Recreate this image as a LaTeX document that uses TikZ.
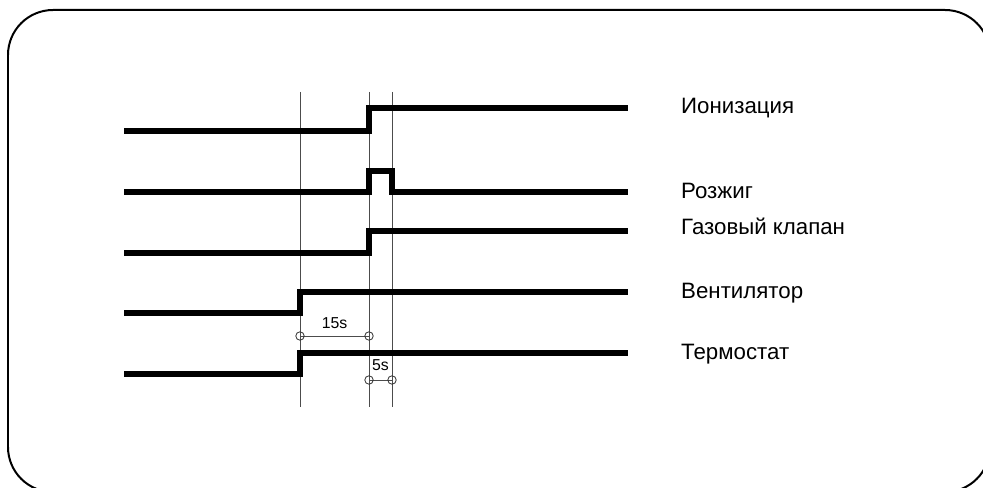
\documentclass[tikz,border=0pt]{standalone}
\usepackage{fontspec}
\setmainfont{Liberation Sans}
\usetikzlibrary{positioning,calc}

\begin{document}
\begin{tikzpicture}[x=0.03cm,y=-0.03cm,
		signal/.style={line width=4.3pt,line join=miter,line cap=butt},
		marker/.style={gray!60!black,line width=0.6pt},
		signame/.style={anchor=base west,inner sep=0pt,font=\fontsize{19}{22}\selectfont},
		dimtext/.style={anchor=base,inner sep=0pt,font=\fontsize{13.5}{16}\selectfont},
		dimring/.style={marker,line width=0.7pt,black!80}]
		\useasboundingbox (0,0) rectangle (983,488);
		\draw[line width=1.7pt,rounded corners=1.35cm] (8,10) rectangle (990,492);
		% time marks
		\coordinate (s) at (124,0);
		\coordinate (a) at (300,0);
		\coordinate (b) at (369,0);
		\coordinate (c) at (392,0);
		\coordinate (e) at (628,0);
		\foreach \t in {a,b,c}
			\draw[marker] ($(\t)+(0,92)$) -- ($(\t)+(0,407)$);
		%
		\draw[signal] ($(s)+(0,131)$) -- ($(b)+(0,131)$) -- ($(b)+(0,108)$) -- ($(e)+(0,108)$);
		\draw[signal] ($(s)+(0,192)$) -- ($(b)+(0,192)$) -- ($(b)+(0,171)$) -- ($(c)+(0,171)$)
			-- ($(c)+(0,192)$) -- ($(e)+(0,192)$);
		\draw[signal] ($(s)+(0,253)$) -- ($(b)+(0,253)$) -- ($(b)+(0,231)$) -- ($(e)+(0,231)$);
		\draw[signal] ($(s)+(0,313)$) -- ($(a)+(0,313)$) -- ($(a)+(0,292)$) -- ($(e)+(0,292)$);
		\draw[signal] ($(s)+(0,374)$) -- ($(a)+(0,374)$) -- ($(a)+(0,353)$) -- ($(e)+(0,353)$);
		%
		\node[signame] (ion) at (681,114) {Ионизация};
		\node[signame] (ign) at (681,199) {Розжиг};
		\node[signame] (gas) at (681,235) {Газовый клапан};
		\node[signame] (fan) at (681,299) {Вентилятор};
		\node[signame] (thermo) at (681,359) {Термостат};
		% delays
		\coordinate (d1a) at ($(a)+(0,336)$);
		\coordinate (d1b) at ($(b)+(0,336)$);
		\coordinate (d2a) at ($(b)+(0,380)$);
		\coordinate (d2b) at ($(c)+(0,380)$);
		\draw[marker] (d1a) -- (d1b);
		\draw[marker] (d2a) -- (d2b);
		\foreach \p in {d1a,d1b,d2a,d2b}
			\draw[dimring] (\p) circle[radius=3.6pt];
		\node[dimtext] (t15) at ($(d1a)!0.5!(d1b)+(0,-8)$) {15s};
		\node[dimtext] (t5) at ($(d2a)!0.5!(d2b)+(0,-10)$) {5s};
	\end{tikzpicture}
\end{document}
